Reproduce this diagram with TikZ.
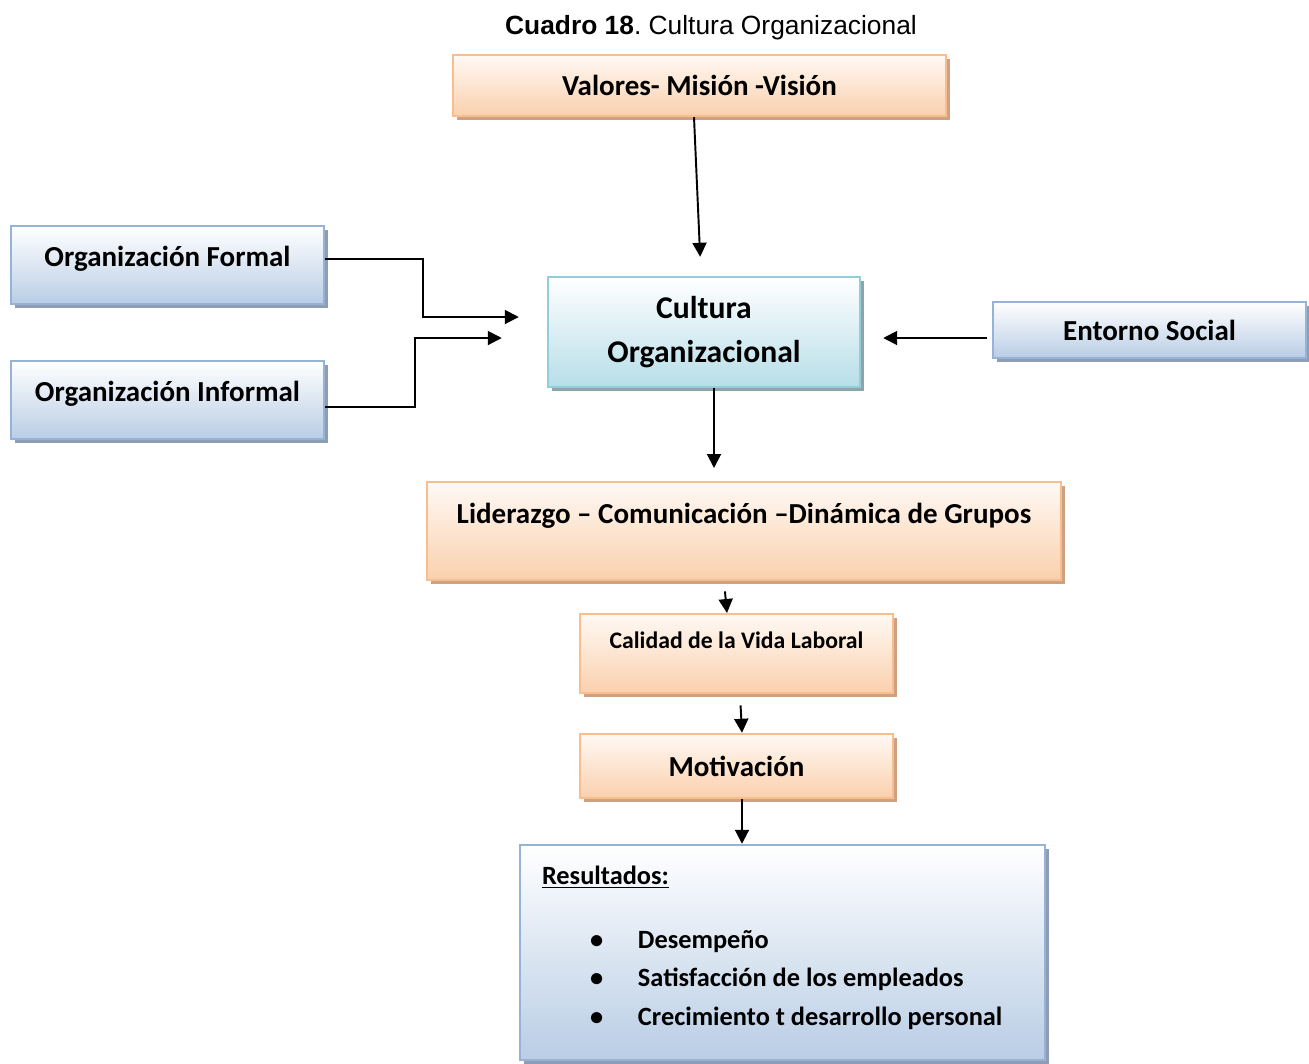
\documentclass[tikz,border=0pt]{standalone}
\usepackage{fontspec}
\setmainfont{Carlito}
\newfontfamily\arialfont{Liberation Sans}
\usetikzlibrary{arrows.meta,shadows}

\definecolor{orangeline}{HTML}{F9BE8E}
\definecolor{orangetop}{HTML}{FFF9F4}
\definecolor{orangebot}{HTML}{FAD0AD}
\definecolor{orangeshade}{HTML}{CDA181}
\definecolor{blueline}{HTML}{95B3D7}
\definecolor{bluebot}{HTML}{B9CDE5}
\definecolor{blueshade}{HTML}{8E9DB3}
\definecolor{cyanline}{HTML}{92CDDC}
\definecolor{cyanbot}{HTML}{B7DEE8}
\definecolor{cyanshade}{HTML}{8FA3A9}

\begin{document}
\begin{tikzpicture}
    % Define styles for the boxes and the arrows
    \tikzstyle{orangebox} = [rectangle, draw=orangeline, line width=1.4pt, top color=orangetop, bottom color=orangebot,
        drop shadow={fill=orangeshade, opacity=1, shadow xshift=0.07cm, shadow yshift=-0.08cm}, font=\bfseries\fontsize{16.5}{20}\selectfont]
    \tikzstyle{bluebox} = [rectangle, draw=blueline, line width=1.4pt, top color=white, bottom color=bluebot,
        drop shadow={fill=blueshade, opacity=1, shadow xshift=0.07cm, shadow yshift=-0.08cm}, font=\bfseries\fontsize{16.5}{20}\selectfont]
    \tikzstyle{cyanbox} = [rectangle, draw=cyanline, line width=1.4pt, top color=white, bottom color=cyanbot,
        drop shadow={fill=cyanshade, opacity=1, shadow xshift=0.07cm, shadow yshift=-0.08cm}, font=\bfseries\fontsize{18}{25}\selectfont]
    \tikzstyle{arr} = [draw, line width=1.1pt, -{Triangle[length=0.28cm, width=0.28cm]}]

    \useasboundingbox (0,0) rectangle (26.18,-21.26);

    % Title
    \node (title) at (14.22,-0.56) {\arialfont\fontsize{15}{17}\selectfont\textbf{Cuadro 18}.\ Cultura Organizacional};

    % Top and centre
    \node[orangebox, minimum width=9.86cm, minimum height=1.22cm] (valores) at (13.99,-1.71) {Valores- Misión -Visión};
    \node[cyanbox, align=center, minimum width=6.24cm, minimum height=2.2cm] (cultura) at (14.08,-6.64) {Cultura\\Organizacional};

    % Left and right
    \node[bluebox, anchor=north, inner ysep=0pt, minimum width=6.26cm, text height=0.8cm, text depth=0.76cm] (formal) at (3.35,-4.5) {Organización Formal};
    \node[bluebox, anchor=north, inner ysep=0pt, minimum width=6.26cm, text height=0.8cm, text depth=0.76cm] (informal) at (3.35,-7.2) {Organización Informal};
    \node[bluebox, minimum width=6.26cm, minimum height=1.12cm] (entorno) at (22.99,-6.6) {Entorno Social};

    % Lower chain
    \node[orangebox, anchor=north, inner ysep=0pt, minimum width=12.68cm, text height=0.82cm, text depth=1.14cm] (liderazgo) at (14.88,-9.62) {Liderazgo -- Comunicación --Dinámica de Grupos};
    \node[orangebox, anchor=north, inner ysep=0pt, minimum width=6.26cm, text height=0.68cm, text depth=0.9cm, font=\bfseries\fontsize{13.5}{16}\selectfont] (calidad) at (14.73,-12.26) {Calidad de la Vida Laboral};
    \node[orangebox, minimum width=6.26cm, minimum height=1.28cm] (motiv) at (14.73,-15.32) {Motivación};
    \node[bluebox, align=flush left, inner xsep=0pt, text width=9.62cm, minimum width=10.5cm, minimum height=4.3cm, font=\bfseries\fontsize{15}{22}\selectfont] (resultados) at (15.65,-19.05)
        {\underline{Resultados:}\\[0.5cm]
         \hspace*{0.96cm}\makebox[0.96cm][l]{\textbullet}Desempeño\\
         \hspace*{0.96cm}\makebox[0.96cm][l]{\textbullet}Satisfacción de los empleados\\
         \hspace*{0.96cm}\makebox[0.96cm][l]{\textbullet}Crecimiento t desarrollo personal\\[-0.5cm]\mbox{}};

    % Connect the boxes
    \draw[arr, shorten >=0.38cm] ([xshift=-0.11cm]valores.south) -- ([xshift=-0.06cm]cultura.north);
    \draw[arr, shorten >=0.56cm] ([yshift=0.12cm]formal.east) -- ++(1.96,0) |- ([yshift=0.3cm]cultura.west);
    \draw[arr, shorten >=0.9cm] ([yshift=-0.14cm]informal.east) -- ++(1.8,0) |- ([yshift=-0.12cm]cultura.west);
    \draw[arr, shorten <=0.1cm, shorten >=0.44cm] ([yshift=-0.16cm]entorno.west) -- ([yshift=-0.12cm]cultura.east);
    \draw[arr, shorten >=0.26cm] ([xshift=0.2cm]cultura.south) -- ([xshift=0.2cm]cultura.south |- liderazgo.north);
    \draw[arr, shorten <=0.2cm] ([xshift=-0.4cm]liderazgo.south) -- ([xshift=-0.19cm]calidad.north);
    \draw[arr, shorten <=0.22cm] ([xshift=0.07cm]calidad.south) -- ([xshift=0.11cm]motiv.north);
    \draw[arr] ([xshift=0.11cm]motiv.south) -- ([xshift=0.11cm]motiv.south |- resultados.north);
\end{tikzpicture}
\end{document}
